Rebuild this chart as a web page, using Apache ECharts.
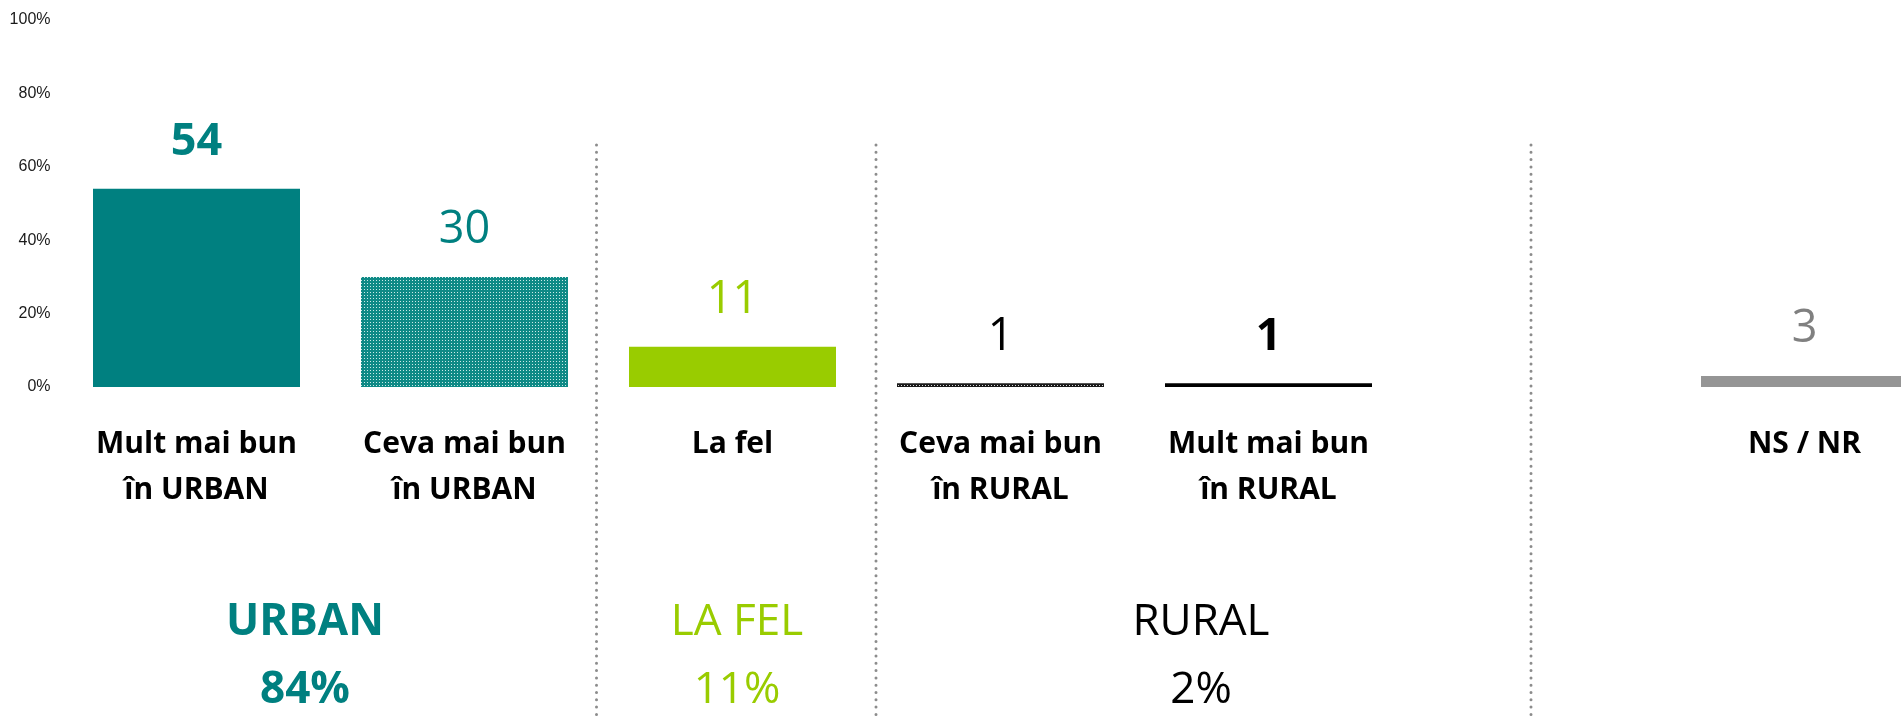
<!DOCTYPE html>
<html>
<head>
<meta charset="utf-8">
<script src="https://cdn.jsdelivr.net/npm/echarts@6.0.0/dist/echarts.min.js"></script>
<style>
  html, body { margin: 0; padding: 0; background: #fff; }
  #main { width: 1901px; height: 720px; }
</style>
</head>
<body>
<div id="main"></div>
<script>
// date
var categories = ['Mult mai bun\nîn URBAN', 'Ceva mai bun\nîn URBAN', 'La fel', 'Ceva mai bun\nîn RURAL', 'Mult mai bun\nîn RURAL', '', 'NS / NR'];
var values = [54, 30, 11, 1, 1, '-', 3];
var yTicks = [0, 20, 40, 60, 80, 100];
var groupNames = ['URBAN', 'LA FEL', 'RURAL'];
var groupShares = ['84%', '11%', '2%'];

// modele pentru barele hasurate
function makePattern(bg, fg, size, dots) {
    var c = document.createElement('canvas');
    c.width = size;
    c.height = size;
    var ctx = c.getContext('2d');
    ctx.fillStyle = bg;
    ctx.fillRect(0, 0, size, size);
    ctx.fillStyle = fg;
    dots.forEach(function (d) { ctx.fillRect(d[0], d[1], 1, 1); });
    return { image: c, repeat: 'repeat' };
}
var tealDots = makePattern('#0f8a86', '#cdeae8', 3, [[1, 1]]);
var blackChecker = makePattern('#1a1a1a', '#d9d9d9', 3, [[1, 1]]);

var barColors = ['#008080', tealDots, '#99cc00', blackChecker, '#000000', null, '#959595'];
var labelColors = ['#008080', '#008080', '#99cc00', '#000000', '#000000', null, '#808080'];
var labelWeights = ['bold', 'normal', 'normal', 'normal', 'bold', 'normal', 'normal'];
var groupColors = ['#008080', '#99cc00', '#000000'];
var groupWeights = ['bold', 'normal', 'normal'];
var groupX = [305, 737, 1201];
var separatorsX = [596.5, 876, 1531];

var barData = values.map(function (v, i) {
    if (v === '-') return '-';
    return {
        value: v,
        itemStyle: { color: barColors[i] },
        label: { color: labelColors[i], fontWeight: labelWeights[i] }
    };
});

var graphics = [];
separatorsX.forEach(function (x) {
    graphics.push({
        type: 'line',
        shape: { x1: x, y1: 145, x2: x, y2: 720 },
        style: { stroke: '#8c8c8c', lineWidth: 3, lineDash: [0, 7.3], lineCap: 'round' },
        silent: true
    });
});
groupNames.forEach(function (name, i) {
    graphics.push({
        type: 'text',
        x: groupX[i],
        y: 622,
        style: {
            text: name, fill: groupColors[i], fontSize: 44, fontWeight: groupWeights[i],
            fontFamily: 'Open Sans', align: 'center', verticalAlign: 'middle'
        }
    });
    graphics.push({
        type: 'text',
        x: groupX[i],
        y: 690,
        style: {
            text: groupShares[i], fill: groupColors[i], fontSize: 44, fontWeight: groupWeights[i],
            fontFamily: 'Open Sans', align: 'center', verticalAlign: 'middle'
        }
    });
});

var myChart = echarts.init(document.getElementById('main'));

option = {
    animation: false,
    grid: {
        left: 62.5,
        top: 20,
        width: 268 * categories.length,
        height: 367,
        outerBoundsMode: 'none'
    },
    xAxis: {
        type: 'category',
        data: categories,
        axisLine: { show: false },
        axisTick: { show: false },
        axisLabel: {
            interval: 0,
            margin: 34,
            color: '#000',
            fontSize: 30,
            fontWeight: 'bold',
            fontFamily: 'Open Sans',
            lineHeight: 46,
            verticalAlign: 'top'
        }
    },
    yAxis: {
        type: 'value',
        min: yTicks[0],
        max: yTicks[yTicks.length - 1],
        interval: 20,
        axisLine: { show: false },
        axisTick: { show: false },
        splitLine: { show: false },
        axisLabel: {
            formatter: '{value}%',
            margin: 12,
            color: '#1a1a1a',
            fontSize: 16,
            fontFamily: 'Liberation Sans'
        }
    },
    series: [{
        type: 'bar',
        barWidth: 207,
        data: barData,
        label: {
            show: true,
            position: 'top',
            distance: 24,
            fontSize: 45,
            fontFamily: 'Open Sans'
        }
    }],
    graphic: graphics
};

myChart.setOption(option);
</script>
</body>
</html>
